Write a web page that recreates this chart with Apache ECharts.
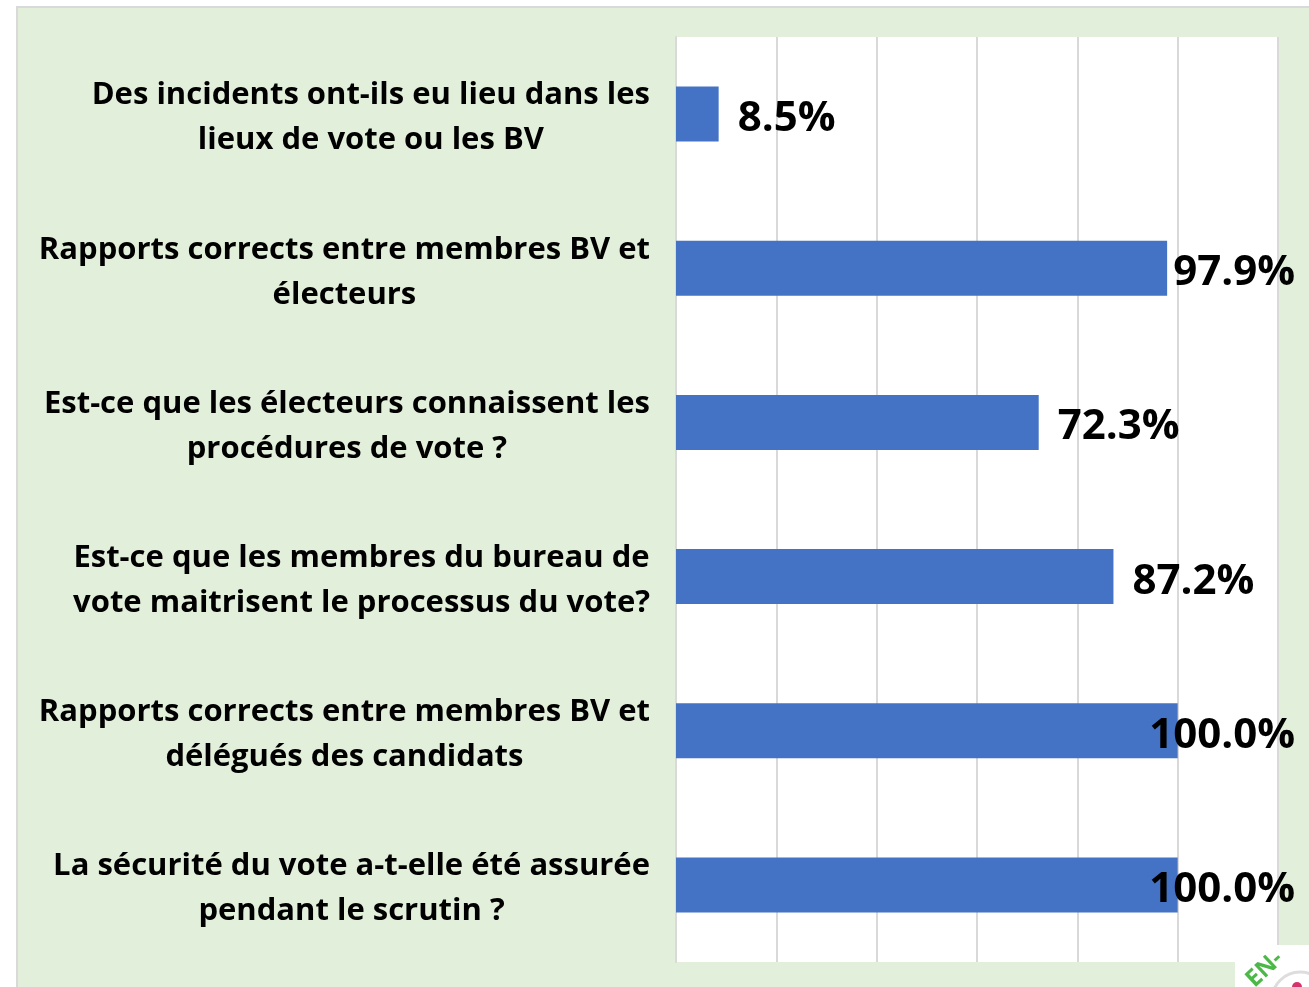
<!DOCTYPE html>
<html>
<head>
<meta charset="utf-8">
<script src="https://cdn.jsdelivr.net/npm/echarts@6/dist/echarts.min.js"></script>
<style>
html,body{margin:0;padding:0;background:#fff;}
#chart{width:1309px;height:987px;}
</style>
</head>
<body>
<div id="chart"></div>
<script>
const categories = [
  "Des incidents ont-ils eu lieu dans les\nlieux de vote ou les BV",
  "Rapports corrects entre membres BV et\nélecteurs",
  "Est-ce que les électeurs connaissent les\nprocédures de vote ?",
  "Est-ce que les membres du bureau de\nvote maitrisent le processus du vote?",
  "Rapports corrects entre membres BV et\ndélégués des candidats",
  "La sécurité du vote a-t-elle été assurée\npendant le scrutin ?"
];
const values = [8.5, 97.9, 72.3, 87.2, 100.0, 100.0];
const axisMax = 120;
const axisInterval = 20;

const chart = echarts.init(document.getElementById('chart'), null, {renderer: 'canvas'});
const FONT = '"Open Sans"';
chart.setOption({
  backgroundColor: '#ffffff',
  animation: false,
  graphic: [
    {type: 'rect', z: -10, shape: {x: 17, y: 7, width: 1400, height: 1100},
     style: {fill: '#e2efda', stroke: '#d9d9d9', lineWidth: 2}},
    {type: 'rect', z: 10, shape: {x: 1235, y: 945, width: 80, height: 50},
     style: {fill: '#ffffff'}},
    {type: 'circle', z: 11, shape: {cx: 1300, cy: 1000, r: 28},
     style: {fill: '#ffffff', stroke: '#dddddd', lineWidth: 3}},
    {type: 'circle', z: 12, shape: {cx: 1297, cy: 987, r: 5},
     style: {fill: '#d6336c'}},
    {type: 'text', z: 12, x: 1258, y: 992, rotation: 0.75,
     style: {text: 'EN-', fill: '#4cb848', font: 'bold 24px ' + FONT, verticalAlign: 'bottom'}}
  ],
  grid: {left: 676, right: 31, top: 37, bottom: 25, show: true,
         backgroundColor: '#ffffff', borderWidth: 0, containLabel: false},
  xAxis: {
    type: 'value', min: 0, max: axisMax, interval: axisInterval,
    axisLabel: {show: false}, axisLine: {show: false}, axisTick: {show: false},
    splitLine: {show: true, lineStyle: {color: '#d9d9d9', width: 2}}
  },
  yAxis: {
    type: 'category', data: categories, inverse: true,
    axisLine: {show: true, lineStyle: {color: '#d9d9d9', width: 2}},
    axisTick: {show: false},
    axisLabel: {
      margin: 26, align: 'right', padding: [8, 0, 0, 0],
      formatter: function (v) { return v.split('\n').map(s => '{c|' + s + '}').join('\n'); },
      rich: {c: {align: 'center', fontFamily: FONT, fontWeight: 'bold', fontSize: 31,
                 color: '#000', lineHeight: 45}}
    }
  },
  series: [{
    type: 'bar', data: values, barWidth: 55,
    itemStyle: {color: '#4472c4'},
    label: {
      show: true, position: 'right', distance: 19,
      formatter: p => p.value.toFixed(1) + '%',
      fontFamily: FONT, fontWeight: 'bold', fontSize: 42, color: '#000'
    },
    labelLayout: function (params) {
      const r = params.labelRect;
      const over = r.x + r.width - 1295;
      return {dx: over > 0 ? -over : 0, dy: 5};
    }
  }]
});
</script>
</body>
</html>
